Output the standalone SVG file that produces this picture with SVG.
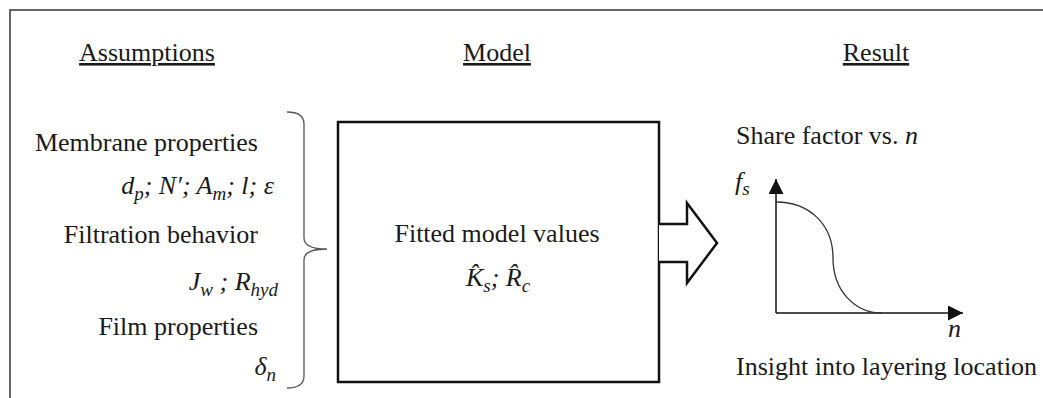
<svg xmlns="http://www.w3.org/2000/svg" width="1043" height="398" viewBox="0 0 1043 398">
<style>
.t{font-family:"Liberation Serif","Times New Roman",serif;font-size:26px;fill:#1a1a1a}
.m{font-family:"Liberation Serif","Times New Roman",serif;font-size:26px;font-style:italic;fill:#1a1a1a}
.h{text-decoration:underline}
.ln{fill:none;stroke:#333;stroke-width:1.5}
.bx{fill:#fff;stroke:#111;stroke-width:2.5}
</style>
<defs>
<marker id="ah" viewBox="0 0 10 10" refX="10" refY="5" markerWidth="15" markerHeight="15" markerUnits="userSpaceOnUse" orient="auto">
<path d="M0,0 L10,5 L0,10 Z" fill="#111"/>
</marker>
</defs>
<rect width="1043" height="398" fill="#fff"/>
<path class="ln" d="M10,398 V10 H1043" stroke="#444"/>

<g id="headers">
<text class="t h" x="147" y="61" text-anchor="middle">Assumptions</text>
<text class="t h" x="497" y="61" text-anchor="middle">Model</text>
<text class="t h" x="876" y="61" text-anchor="middle">Result</text>
</g>

<g id="assumptions">
<text class="t" x="258" y="151" text-anchor="end">Membrane properties</text>
<text class="m" x="274" y="194" text-anchor="end">d<tspan font-size="19" dy="6">p</tspan><tspan dy="-6">; N′; A</tspan><tspan font-size="19" dy="6">m</tspan><tspan dy="-6">; l; ε</tspan></text>
<text class="t" x="258" y="243" text-anchor="end">Filtration behavior</text>
<text class="m" x="278" y="290" text-anchor="end">J<tspan font-size="19" dy="6">w</tspan><tspan dy="-6"> ; R</tspan><tspan font-size="19" dy="6">hyd</tspan></text>
<text class="t" x="258" y="335" text-anchor="end">Film properties</text>
<text class="m" x="276" y="375" text-anchor="end">δ<tspan font-size="19" dy="6">n</tspan></text>
<path d="M287,112 Q304,112 304,124 V238 Q304,249 327,249 Q304,249 304,260 V376 Q304,388 287,388" fill="none" stroke="#555" stroke-width="1.3"/>
</g>

<g id="model">
<rect class="bx" x="338" y="122" width="321" height="260"/>
<text class="t" x="497" y="242" text-anchor="middle">Fitted model values</text>
<text class="m" x="498" y="286" text-anchor="middle">K̂<tspan font-size="19" dy="6">s</tspan><tspan dy="-6">; R̂</tspan><tspan font-size="19" dy="6">c</tspan></text>
</g>

<g id="connectors">
<path d="M659,224 H687 V203 L717,243 L687,283 V262 H659" fill="#fff" stroke="#111" stroke-width="2.5" stroke-linejoin="miter"/>
</g>

<g id="result">
<text class="t" x="736" y="144">Share factor vs. <tspan class="m">n</tspan></text>
<text class="m" x="735" y="190" font-size="27">f<tspan font-size="19" dy="5">s</tspan></text>
<line x1="776" y1="313" x2="776" y2="179" stroke="#111" stroke-width="1.5" marker-end="url(#ah)"/>
<line x1="776" y1="313" x2="963" y2="313" stroke="#111" stroke-width="1.5" marker-end="url(#ah)"/>
<path d="M776,202 C810,202 833,225 833,258 C833,291 855,313 882,313" fill="none" stroke="#333" stroke-width="1.3"/>
<text class="m" x="948" y="337">n</text>
<text class="t" x="736" y="375">Insight into layering location</text>
</g>
</svg>
